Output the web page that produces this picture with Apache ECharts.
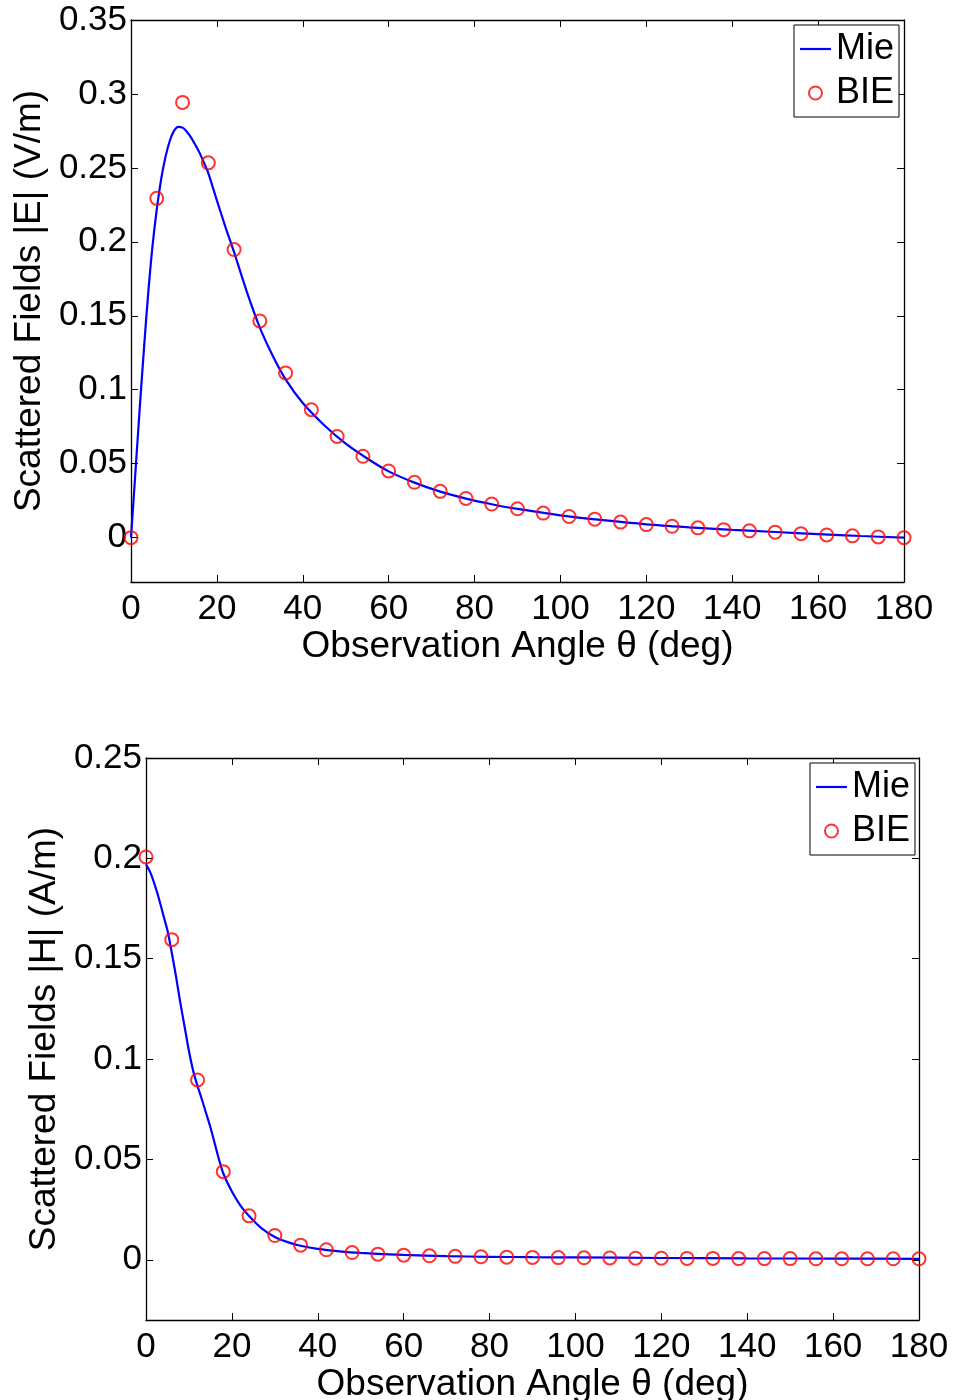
<!DOCTYPE html>
<html>
<head>
<meta charset="utf-8">
<script src="https://cdn.jsdelivr.net/npm/echarts@6/dist/echarts.min.js"></script>
<style>
html,body{margin:0;padding:0;background:#fff;}
#chart{width:956px;height:1400px;}
</style>
</head>
<body>
<div id="chart"></div>
<script>
// ---- data ----
const xTicks = [0, 20, 40, 60, 80, 100, 120, 140, 160, 180];
const yTicksTop = [0, 0.05, 0.1, 0.15, 0.2, 0.25, 0.3, 0.35];
const yTicksBottom = [0, 0.05, 0.1, 0.15, 0.2, 0.25];

const mieTopAngles = [0,1,2,3,4,5,6,7,8,9,10,11,12,13,14,15,16,17,18,20,22,24,27,30,33,36,40,45,50,55,60,66,72,78,84,90,100,110,120,130,140,150,160,170,180];
const mieTopValues = [0,0.043,0.086,0.127,0.165,0.197,0.222,0.242,0.257,0.268,0.275,0.2778,0.2772,0.2745,0.2705,0.2655,0.260,0.2535,0.2465,0.228,0.210,0.193,0.166,0.142,0.123,0.107,0.091,0.076,0.0635,0.0535,0.0448,0.0372,0.0311,0.0264,0.0226,0.0194,0.0151,0.0118,0.0090,0.0070,0.0053,0.0038,0.0024,0.0011,0.0];

const bieAngles = [0,6,12,18,24,30,36,42,48,54,60,66,72,78,84,90,96,102,108,114,120,126,132,138,144,150,156,162,168,174,180];
const bieTopValues = [0,0.2294,0.2943,0.2534,0.1948,0.1465,0.1114,0.0865,0.0684,0.0550,0.0451,0.0374,0.0313,0.0265,0.0227,0.0195,0.0166,0.0143,0.0125,0.0105,0.0088,0.0077,0.0066,0.0054,0.0046,0.0037,0.0027,0.0018,0.0012,0.0005,0.0];

const mieBottomAngles = [0,1,2,3,4,5,6,7,8,9,10,11,12,13,14,15,16,17,18,20,22,24,27,30,33,36,40,45,50,60,70,80,90,100,120,140,160,180];
const mieBottomValues = [0.197,0.193,0.187,0.180,0.172,0.164,0.153,0.141,0.128,0.116,0.104,0.094,0.0866,0.080,0.073,0.066,0.058,0.050,0.043,0.034,0.027,0.0218,0.0155,0.0114,0.0088,0.0070,0.0054,0.0042,0.0034,0.0024,0.0018,0.0015,0.0013,0.0012,0.0009,0.0007,0.0006,0.0005];
const bieBottomValues = [0.2007,0.1595,0.0896,0.0439,0.0219,0.0121,0.0073,0.0050,0.0036,0.0028,0.0023,0.0020,0.0017,0.0015,0.0013,0.0012,0.0011,0.0010,0.0009,0.0008,0.0008,0.0007,0.0007,0.0006,0.0006,0.0006,0.0005,0.0005,0.0005,0.0005,0.0005];

const xTitle = 'Observation Angle θ (deg)';
const yTitleTop = 'Scattered Fields |E| (V/m)';
const yTitleBottom = 'Scattered Fields |H| (A/m)';

// ---- build ----
const FONT = 'Liberation Sans, Arial, Helvetica, sans-serif';
const pair = (xs, ys) => xs.map((x, i) => [x, ys[i]]);

const axisLine = { show: true, onZero: false, lineStyle: { color: '#000', width: 1.3 } };
const tick = { show: true, inside: true, length: 7, lineStyle: { color: '#000', width: 1 } };

function xAxes(gi) {
  return [
    { type: 'value', gridIndex: gi, position: 'bottom', min: xTicks[0], max: xTicks[xTicks.length - 1], interval: xTicks[1] - xTicks[0],
      axisLine, axisTick: tick, splitLine: { show: false },
      axisLabel: { color: '#000', fontSize: 35, fontFamily: FONT, margin: 10 },
      name: xTitle, nameLocation: 'middle', nameGap: 38,
      nameTextStyle: { color: '#000', fontSize: 37, fontFamily: FONT } },
    { type: 'value', gridIndex: gi, position: 'top', min: xTicks[0], max: xTicks[xTicks.length - 1], interval: xTicks[1] - xTicks[0],
      axisLine, axisTick: tick, splitLine: { show: false }, axisLabel: { show: false } }
  ];
}
function yAxes(gi, ticks, max, title, gap) {
  return [
    { type: 'value', gridIndex: gi, position: 'left', min: -0.03, max: max,
      axisLine, axisTick: Object.assign({}, tick, { customValues: ticks }), splitLine: { show: false },
      axisLabel: { color: '#000', fontSize: 35, fontFamily: FONT, margin: 4, customValues: ticks, showMinLabel: true },
      name: title, nameLocation: 'middle', nameRotate: 90, nameGap: gap,
      nameTextStyle: { color: '#000', fontSize: 37, fontFamily: FONT } },
    { type: 'value', gridIndex: gi, position: 'right', min: -0.03, max: max,
      axisLine, axisTick: Object.assign({}, tick, { customValues: ticks }), splitLine: { show: false },
      axisLabel: { show: false } }
  ];
}

const lineSeries = (xi, yi, data) => ({
  name: 'Mie', type: 'line', xAxisIndex: xi, yAxisIndex: yi, data, symbol: 'none', showSymbol: false,
  smooth: 0.3, clip: false, lineStyle: { color: '#0000ff', width: 2.2 }, itemStyle: { color: '#0000ff' }, z: 2
});
const dotSeries = (xi, yi, data) => ({
  name: 'BIE', type: 'scatter', xAxisIndex: xi, yAxisIndex: yi, data, symbol: 'circle', symbolSize: 13,
  clip: false, itemStyle: { color: 'transparent', borderColor: '#ff0000', borderWidth: 2 }, z: 3
});

const legendBase = {
  orient: 'vertical', backgroundColor: '#fff', borderColor: '#000', borderWidth: 1,
  padding: [4, 5, 4, 6], itemGap: 4, itemWidth: 31, itemHeight: 13,
  textStyle: { color: '#000', fontSize: 36, fontFamily: FONT, lineHeight: 40, padding: [0, 0, 0, 0] },
  selectedMode: false,
  data: [
    { name: 'Mie', icon: 'path://M0,0L31,0L31,2.2L0,2.2Z', itemStyle: { color: '#0000ff' } },
    { name: 'BIE', icon: 'circle', itemStyle: { color: 'transparent', borderColor: '#ff0000', borderWidth: 2 } }
  ]
};

const option = {
  animation: false,
  backgroundColor: '#fff',
  grid: [
    { left: 131, top: 20, width: 773, height: 562, outerBoundsMode: 'none', containLabel: false },
    { left: 146, top: 758, width: 773, height: 562, outerBoundsMode: 'none', containLabel: false }
  ],
  xAxis: [...xAxes(0), ...xAxes(1)],
  yAxis: [...yAxes(0, yTicksTop, 0.35, yTitleTop, 78), ...yAxes(1, yTicksBottom, 0.25, yTitleBottom, 79)],
  legend: [
    Object.assign({}, legendBase, { right: 57, top: 25 }),
    Object.assign({}, legendBase, { right: 41, top: 763 })
  ],
  series: [
    lineSeries(0, 0, pair(mieTopAngles, mieTopValues)),
    dotSeries(0, 0, pair(bieAngles, bieTopValues)),
    lineSeries(2, 2, pair(mieBottomAngles, mieBottomValues)),
    dotSeries(2, 2, pair(bieAngles, bieBottomValues))
  ]
};

const chart = echarts.init(document.getElementById('chart'), null, { renderer: 'canvas' });
chart.setOption(option);
</script>
</body>
</html>
